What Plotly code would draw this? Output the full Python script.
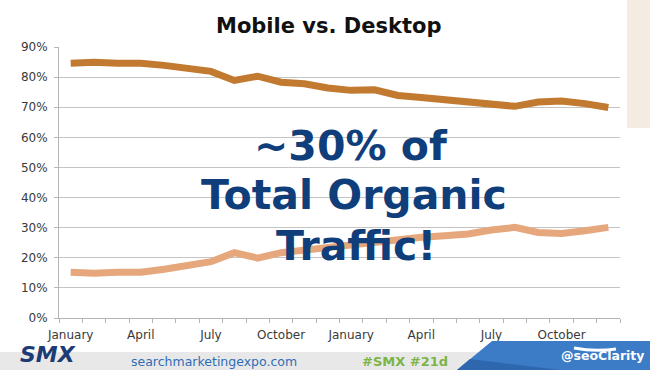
import plotly.graph_objects as go

# ---------------- data ----------------
months = ["January", "February", "March", "April", "May", "June", "July", "August",
          "September", "October", "November", "December",
          "January", "February", "March", "April", "May", "June", "July", "August",
          "September", "October", "November", "December"]
desktop = [84.6, 84.9, 84.6, 84.6, 83.9, 82.8, 81.9, 78.9, 80.3, 78.3, 77.8, 76.4,
           75.6, 75.8, 73.9, 73.2, 72.5, 72.1, 71.0, 70.3, 71.7, 72.1, 71.2, 69.9]
mobile = [15.2, 14.9, 15.2, 15.2, 16.2, 17.6, 18.7, 21.7, 19.9, 21.7, 22.6, 23.2,
          24.0, 25.0, 26.0, 26.8, 27.3, 27.9, 29.2, 30.1, 28.4, 28.1, 29.0, 30.1]
label_every = 3
y_ticks = [0, 10, 20, 30, 40, 50, 60, 70, 80, 90]

title_text = "Mobile vs. Desktop"
overlay_lines = ["~30% of", "Total Organic", "Traffic!"]

x_idx = list(range(len(months)))
tick_vals = x_idx[::label_every]
tick_text = months[::label_every]

W, H = 650, 370
ML, MR, MT, MB = 59, 30, 47, 52
PW, PH = W - ML - MR, H - MT - MB


def X(px):
    return (px - ML) / PW


def Y(py):
    return (H - MB - py) / PH


fig = go.Figure()
fig.add_trace(go.Scatter(x=x_idx, y=[v / 100 for v in desktop], mode="lines",
                         line=dict(color="#C17A30", width=7), name="Desktop",
                         hoverinfo="skip"))
fig.add_trace(go.Scatter(x=x_idx, y=[v / 100 for v in mobile], mode="lines",
                         line=dict(color="#E6A77D", width=7), name="Mobile",
                         hoverinfo="skip"))

font_main = "DejaVu Sans, Verdana, sans-serif"

fig.update_layout(
    width=W, height=H,
    margin=dict(l=ML, r=MR, t=MT, b=MB, pad=0, autoexpand=False),
    paper_bgcolor="white", plot_bgcolor="white",
    showlegend=False,
    font=dict(family=font_main, size=12, color="#3a3a3a"),
    xaxis=dict(range=[-0.5, len(months) - 0.5], tickmode="array",
               tickvals=tick_vals, ticktext=tick_text, ticks="",
               showgrid=False, zeroline=False, showline=True,
               linecolor="#B5B5B5", linewidth=1,
               tickfont=dict(size=12, color="#3a3a3a"),
               ticklabelstandoff=6,
               minor=dict(ticks="outside", tick0=-0.5, dtick=1, ticklen=4,
                          tickcolor="#B5B5B5", tickwidth=1, showgrid=False)),
    yaxis=dict(range=[0, 0.9], tickmode="array",
               tickvals=[v / 100 for v in y_ticks],
               ticktext=[f"{v}%" for v in y_ticks],
               ticks="outside", ticklen=4, tickcolor="#B5B5B5",
               showgrid=True, gridcolor="#C4C4C4", gridwidth=1,
               zeroline=False, showline=True, linecolor="#B5B5B5", linewidth=1,
               tickfont=dict(size=12, color="#3a3a3a"),
               ticklabelstandoff=4),
)

annotations = []
# title
annotations.append(dict(text=f"<b>{title_text}</b>", x=X(328), y=Y(26),
                        xref="paper", yref="paper", showarrow=False,
                        xanchor="center", yanchor="middle",
                        font=dict(family=font_main, size=21, color="#111111")))
# overlay text
for line, cx, cy in zip(overlay_lines, [351, 354, 356], [146, 195, 246]):
    annotations.append(dict(text=f"<b>{line}</b>", x=X(cx), y=Y(cy),
                            xref="paper", yref="paper", showarrow=False,
                            xanchor="center", yanchor="middle",
                            font=dict(family=font_main, size=41, color="#0F3E7A")))

shapes = []
# right beige strip
shapes.append(dict(type="rect", xref="paper", yref="paper", layer="above",
                   x0=X(627), x1=X(650), y0=Y(128), y1=Y(0),
                   fillcolor="#F4ECE2", line=dict(width=0)))
# gray footer band
shapes.append(dict(type="rect", xref="paper", yref="paper", layer="above",
                   x0=X(0), x1=X(650), y0=Y(370), y1=Y(352),
                   fillcolor="#E8E8E8", line=dict(width=0)))


def P(px, py):
    return f"{X(px):.5f},{Y(py):.5f}"


# blue parallelogram
shapes.append(dict(type="path", xref="paper", yref="paper", layer="above",
                   path=f"M {P(457,370)} L {P(492,341)} L {P(650,341)} L {P(650,370)} Z",
                   fillcolor="#3C7BC6", line=dict(width=0)))
shapes.append(dict(type="path", xref="paper", yref="paper", layer="above",
                   path=f"M {P(457,370)} L {P(470,359)} L {P(560,370)} Z",
                   fillcolor="#2F67AE", line=dict(width=0)))
# white swoosh
shapes.append(dict(type="path", xref="paper", yref="paper", layer="above",
                   path=f"M {P(574,348)} Q {P(595,352)} {P(616,349)}",
                   line=dict(color="white", width=3)))

fig.update_layout(shapes=shapes)

# footer texts
annotations.append(dict(text="<b><i>SMX</i></b>", x=X(48), y=Y(369),
                        xref="paper", yref="paper", showarrow=False,
                        xanchor="center", yanchor="bottom",
                        font=dict(family=font_main, size=22, color="#1D3B74")))
annotations.append(dict(text="searchmarketingexpo.com", x=X(214), y=Y(361),
                        xref="paper", yref="paper", showarrow=False,
                        xanchor="center", yanchor="middle",
                        font=dict(family=font_main, size=12.5, color="#2F6EB5")))
annotations.append(dict(text="<b>#SMX #21d</b>", x=X(405), y=Y(361),
                        xref="paper", yref="paper", showarrow=False,
                        xanchor="center", yanchor="middle",
                        font=dict(family=font_main, size=13, color="#7DB446")))
annotations.append(dict(text="<b>@seoClarity</b>", x=X(602), y=Y(355),
                        xref="paper", yref="paper", showarrow=False,
                        xanchor="center", yanchor="middle",
                        font=dict(family=font_main, size=12.5, color="white")))

fig.update_layout(annotations=annotations)
fig.write_html("out.html", config={"displayModeBar": False},
               post_script="document.body.style.margin='0';document.body.style.padding='0';")
